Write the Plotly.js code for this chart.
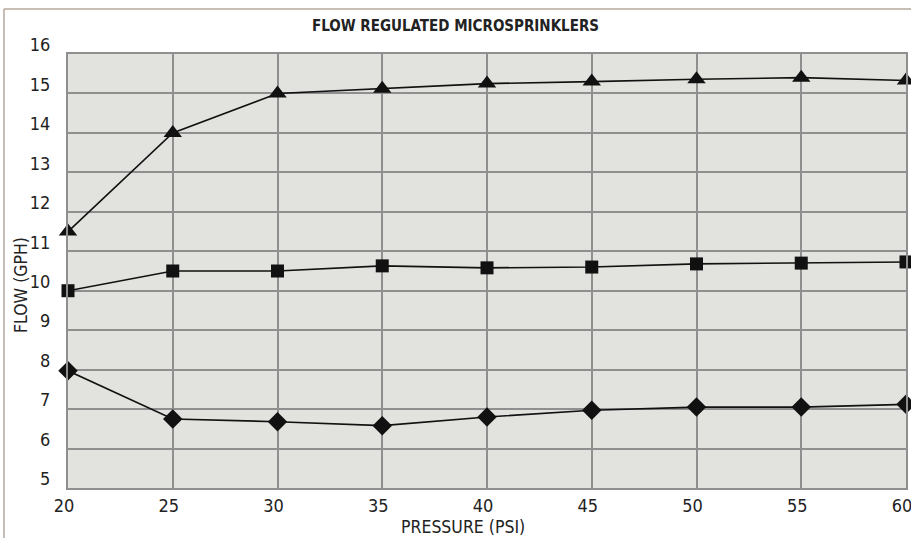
<!DOCTYPE html>
<html>
<head>
<meta charset="utf-8">
<script src="https://cdn.plot.ly/plotly-3.0.1.min.js"></script>
<style>
html,body{margin:0;padding:0;background:#fff;}
#chart{width:911px;height:538px;}
</style>
</head>
<body>
<div id="chart"></div>
<script>
var pressure = [20, 25, 30, 35, 40, 45, 50, 55, 60];
var flowTriangle = [11.5, 14.0, 15.0, 15.12, 15.25, 15.3, 15.36, 15.4, 15.33];
var flowSquare = [10.0, 10.5, 10.5, 10.63, 10.58, 10.6, 10.68, 10.7, 10.73];
var flowDiamond = [7.97, 6.75, 6.68, 6.58, 6.8, 6.97, 7.05, 7.05, 7.12];
var xTicks = [20, 25, 30, 35, 40, 45, 50, 55, 60];
var yTicks = [5, 6, 7, 8, 9, 10, 11, 12, 13, 14, 15, 16];

var FONT = '"DejaVu Sans Condensed", "DejaVu Sans", sans-serif';
function f(size, weight) {
  return {family: FONT, size: size, color: '#222', stretch: 'condensed', weight: weight || 'normal'};
}

function series(y, sym, size) {
  return {
    x: pressure, y: y, type: 'scatter', mode: 'lines+markers',
    line: {color: '#111', width: 1.6},
    marker: {symbol: sym, size: size, color: '#111'},
    cliponaxis: false, showlegend: false, hoverinfo: 'x+y'
  };
}

var data = [
  series(flowTriangle, 'triangle-up', 16),
  series(flowSquare, 'square', 13),
  series(flowDiamond, 'diamond', 15)
];

var layout = {
  width: 911, height: 538,
  margin: {l: 68, r: 5, t: 54, b: 50},
  paper_bgcolor: '#ffffff',
  plot_bgcolor: '#e2e3df',
  font: f(17),
  title: {text: 'FLOW REGULATED MICROSPRINKLERS', font: f(15, 'bold'),
          x: 0.5, xanchor: 'center', y: 0.953, yanchor: 'middle'},
  xaxis: {
    range: [20, 60], tickvals: xTicks, ticktext: xTicks.map(String),
    showgrid: true, gridcolor: '#8e908f', gridwidth: 2,
    zeroline: false, showline: true, linecolor: '#8e908f', linewidth: 2, mirror: true,
    ticks: '', ticklabelshift: -4, ticklabeloverflow: 'allow',
    tickfont: f(18)
  },
  yaxis: {
    range: [5, 16], tickvals: yTicks, ticktext: yTicks.map(String),
    showgrid: true, gridcolor: '#8e908f', gridwidth: 2,
    zeroline: false, showline: true, linecolor: '#8e908f', linewidth: 2, mirror: true,
    ticks: '', ticklabelstandoff: 12, ticklabelshift: -9, ticklabeloverflow: 'allow',
    tickfont: f(18)
  },
  annotations: [
    {text: 'PRESSURE (PSI)', xref: 'paper', yref: 'paper', x: 0.4714, y: -0.0899,
     xanchor: 'center', yanchor: 'middle', showarrow: false, font: f(17.5)},
    {text: 'FLOW (GPH)', xref: 'paper', yref: 'paper', x: -0.0561, y: 0.4677, textangle: -90,
     xanchor: 'center', yanchor: 'middle', showarrow: false, font: f(17.5)}
  ],
  shapes: [
    {type: 'line', xref: 'paper', yref: 'paper', x0: -0.0764, x1: -0.0764, y0: -0.2, y1: 1.1037,
     line: {color: '#b5a89e', width: 1.5}},
    {type: 'line', xref: 'paper', yref: 'paper', x0: -0.0764, x1: 1.1, y0: 1.1037, y1: 1.1037,
     line: {color: '#b5a89e', width: 1.5}}
  ]
};

Plotly.newPlot('chart', data, layout, {displayModeBar: false, staticPlot: true});
</script>
</body>
</html>
